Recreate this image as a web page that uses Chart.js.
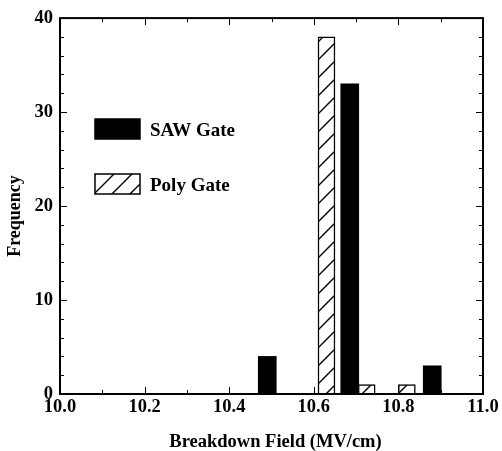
<!DOCTYPE html>
<html>
<head>
<meta charset="utf-8">
<script src="https://cdn.jsdelivr.net/npm/chart.js@4"></script>
<style>
  html, body { margin: 0; padding: 0; background: #fff; }
  #wrap { width: 502px; height: 451px; }
</style>
</head>
<body>
<div id="wrap"><canvas id="grafico"></canvas></div>
<script>
// campo de ruptura (MV/cm) e frequência de cada grupo
const sawField = [10.49, 10.685, 10.88];
const sawCount = [4, 33, 3];
const polyField = [10.63, 10.725, 10.82];
const polyCount = [38, 1, 1];
const sawLabel = 'SAW Gate';
const polyLabel = 'Poly Gate';
const xTitle = 'Breakdown Field (MV/cm)';
const yTitle = 'Frequency';
const xTicks = [10.0, 10.2, 10.4, 10.6, 10.8, 11.0];
const yTicks = [0, 10, 20, 30, 40];

const FONTE = "'Liberation Serif', 'Times New Roman', serif";

// padrão de hachura diagonal para o Poly Gate
function hachura(passo) {
  const c = document.createElement('canvas');
  c.width = passo; c.height = passo;
  const g = c.getContext('2d');
  g.fillStyle = '#fff';
  g.fillRect(0, 0, passo, passo);
  g.strokeStyle = '#000';
  g.lineWidth = 1.4;
  g.beginPath();
  g.moveTo(-1, passo + 1); g.lineTo(passo + 1, -1);
  g.moveTo(-1, 1); g.lineTo(1, -1);
  g.moveTo(passo - 1, passo + 1); g.lineTo(passo + 1, passo - 1);
  g.stroke();
  return g.createPattern(c, 'repeat');
}

const padraoPoly = hachura(18);

// moldura com marcas internas nos quatro lados + títulos dos eixos
const moldura = {
  id: 'moldura',
  afterDraw(chart) {
    const { ctx, chartArea: a, scales: { x, y } } = chart;
    ctx.save();
    ctx.strokeStyle = '#000';
    ctx.lineWidth = 1;
    ctx.beginPath();
    for (let i = 0; i <= 10; i++) {
      const px = Math.round(x.getPixelForValue(10 + i * 0.1)) + 0.5;
      const len = i % 2 === 0 ? 7 : 4;
      ctx.moveTo(px, a.bottom); ctx.lineTo(px, a.bottom - len);
      ctx.moveTo(px, a.top); ctx.lineTo(px, a.top + len);
    }
    for (let v = 0; v <= 40; v += 2) {
      const py = Math.round(y.getPixelForValue(v)) + 0.5;
      const len = v % 10 === 0 ? 7 : 4;
      ctx.moveTo(a.left, py); ctx.lineTo(a.left + len, py);
      ctx.moveTo(a.right, py); ctx.lineTo(a.right - len, py);
    }
    ctx.stroke();
    ctx.lineWidth = 2;
    ctx.strokeRect(a.left, a.top, a.right - a.left, a.bottom - a.top);

    // títulos
    ctx.fillStyle = '#000';
    ctx.textAlign = 'center';
    ctx.textBaseline = 'alphabetic';
    ctx.font = 'bold 18.5px ' + FONTE;
    ctx.fillText(xTitle, (a.left + a.right) / 2 + 4, 447);
    ctx.translate(20, 216);
    ctx.rotate(-Math.PI / 2);
    ctx.font = 'bold 18px ' + FONTE;
    ctx.fillText(yTitle, 0, 0);
    ctx.restore();
  }
};

// legenda desenhada dentro da área do gráfico
const legenda = {
  id: 'legenda',
  afterDraw(chart) {
    const ctx = chart.ctx;
    const itens = chart.data.datasets;
    ctx.save();
    ctx.font = 'bold 19px ' + FONTE;
    ctx.textBaseline = 'alphabetic';
    const tops = [119, 174];
    itens.forEach((ds, i) => {
      const y0 = tops[i];
      ctx.fillStyle = ds.backgroundColor;
      ctx.fillRect(95, y0, 45, 20);
      ctx.strokeStyle = '#000';
      ctx.lineWidth = 1.5;
      ctx.strokeRect(95, y0, 45, 20);
      ctx.fillStyle = '#000';
      ctx.fillText(ds.label, 150, y0 + 17);
    });
    ctx.restore();
  }
};

new Chart(document.getElementById('grafico'), {
  type: 'bar',
  data: {
    datasets: [
      {
        label: sawLabel,
        data: sawField.map((f, i) => ({ x: f, y: sawCount[i] })),
        backgroundColor: '#000',
        borderColor: '#000',
        borderWidth: 0,
        barThickness: 18
      },
      {
        label: polyLabel,
        data: polyField.map((f, i) => ({ x: f, y: polyCount[i] })),
        backgroundColor: padraoPoly,
        borderColor: '#000',
        borderWidth: 1.5,
        barThickness: 17
      }
    ]
  },
  options: {
    animation: false,
    responsive: true,
    maintainAspectRatio: false,
    devicePixelRatio: 1,
    grouped: false,
    layout: { padding: { top: 15, right: 19, left: 0, bottom: 0 } },
    plugins: { legend: { display: false }, tooltip: { enabled: false } },
    scales: {
      x: {
        type: 'linear',
        min: 10,
        max: 11,
        offset: false,
        afterBuildTicks: s => { s.ticks = xTicks.map(v => ({ value: v })); },
        afterFit: s => { s.height = 57; },
        grid: { display: false, drawTicks: false },
        border: { display: false },
        ticks: {
          color: '#000',
          padding: 2,
          maxRotation: 0,
          font: { family: FONTE, size: 18.5, weight: 'bold' },
          callback: v => v.toFixed(1)
        },
        title: { display: false }
      },
      y: {
        min: 0,
        max: 40,
        afterBuildTicks: s => { s.ticks = yTicks.map(v => ({ value: v })); },
        afterFit: s => { s.width = 60; },
        grid: { display: false, drawTicks: false },
        border: { display: false },
        ticks: {
          color: '#000',
          padding: 7,
          font: { family: FONTE, size: 18.5, weight: 'bold' }
        },
        title: { display: false }
      }
    }
  },
  plugins: [moldura, legenda]
});
</script>
</body>
</html>
